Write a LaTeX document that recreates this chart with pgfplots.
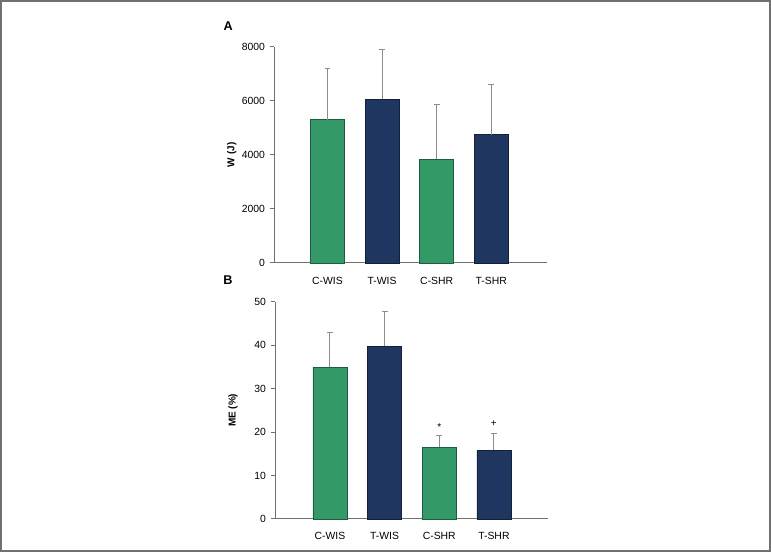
\documentclass[border=0pt]{standalone}
\usepackage{pgfplots}
\pgfplotsset{compat=1.18}
\usepackage{fontspec}
\setmainfont{Liberation Sans}
\definecolor{cgreen}{HTML}{339966}
\definecolor{cnavy}{HTML}{1E3660}
\definecolor{axgray}{HTML}{707070}
\definecolor{errgray}{HTML}{8C8C8C}
\begin{document}
\begin{tikzpicture}
\useasboundingbox (0,0) rectangle (578.25pt,414pt);
\draw[axgray, line width=1.5pt] (0.75pt,0.75pt) rectangle (577.5pt,413.25pt);
\pgfplotsset{
  myax/.style={
    scale only axis,
    anchor=south west,
    width=204.75pt,
    axis x line=bottom,
    axis y line=left,
    axis line style={-, axgray, line width=0.75pt},
    ymin=0,
    xtick={0,1,2,3},
    xticklabels={C-WIS,T-WIS,C-SHR,T-SHR},
    x tick style={draw=none},
    major tick length=3.2pt,
    tick align=outside,
    y tick style={axgray, line width=0.75pt},
    tick label style={font=\fontsize{7.8}{9}\selectfont},
    /pgf/number format/assume math mode=true,
    /pgf/number format/1000 sep={},
    ylabel style={font=\fontsize{7.5}{9}\selectfont\bfseries, anchor=center},
    xticklabel style={anchor=center},
    clip=false,
  },
  mybar/.style={
    ybar, bar shift=0pt, bar width=25.5pt, line width=0.5pt,
    /pgfplots/error bars/y dir=plus,
    /pgfplots/error bars/y explicit,
    /pgfplots/error bars/error bar style={errgray, line width=0.75pt},
    /pgfplots/error bars/error mark options={rotate=90, errgray, mark size=2.2pt, line width=0.75pt},
  },
}
\begin{axis}[myax,
  at={(205.5pt,216.75pt)},
  height=162.2pt,
  xmin=-0.98, xmax=4.02,
  ymax=8000,
  ytick={0,2000,4000,6000,8000},
  ylabel={W (J)},
  ylabel style={at={(axis description cs:-0.155,0.5)}},
  xticklabel style={yshift=-10.3pt},
]
\addplot[mybar, fill=cgreen, draw=cgreen!60!black] coordinates {(0,5300) +- (0,1900) (2,3840) +- (0,2010)};
\addplot[mybar, fill=cnavy, draw=cnavy!60!black] coordinates {(1,6050) +- (0,1850) (3,4750) +- (0,1850)};
\end{axis}
\begin{axis}[myax,
  at={(206.25pt,24.75pt)},
  height=163pt,
  xmin=-1.006, xmax=3.99,
  ymax=50,
  ytick={0,10,20,30,40,50},
  ylabel={ME (\%)},
  ylabel style={at={(axis description cs:-0.154,0.5)}},
  xticklabel style={yshift=-9.5pt},
]
\addplot[mybar, fill=cgreen, draw=cgreen!60!black] coordinates {(0,34.9) +- (0,8.0) (2,16.5) +- (0,2.75)};
\addplot[mybar, fill=cnavy, draw=cnavy!60!black] coordinates {(1,39.7) +- (0,8.1) (3,15.8) +- (0,3.9)};
\node[font=\fontsize{7.5}{9}\selectfont] at (axis cs:2,21.2) {*};
\node[font=\fontsize{7.5}{9}\selectfont] at (axis cs:3,21.9) {+};
\end{axis}
\node[font=\fontsize{9.5}{11}\selectfont\bfseries] at (171.2pt,394.5pt) {A};
\node[font=\fontsize{9.5}{11}\selectfont\bfseries] at (171pt,204pt) {B};
\end{tikzpicture}
\end{document}
